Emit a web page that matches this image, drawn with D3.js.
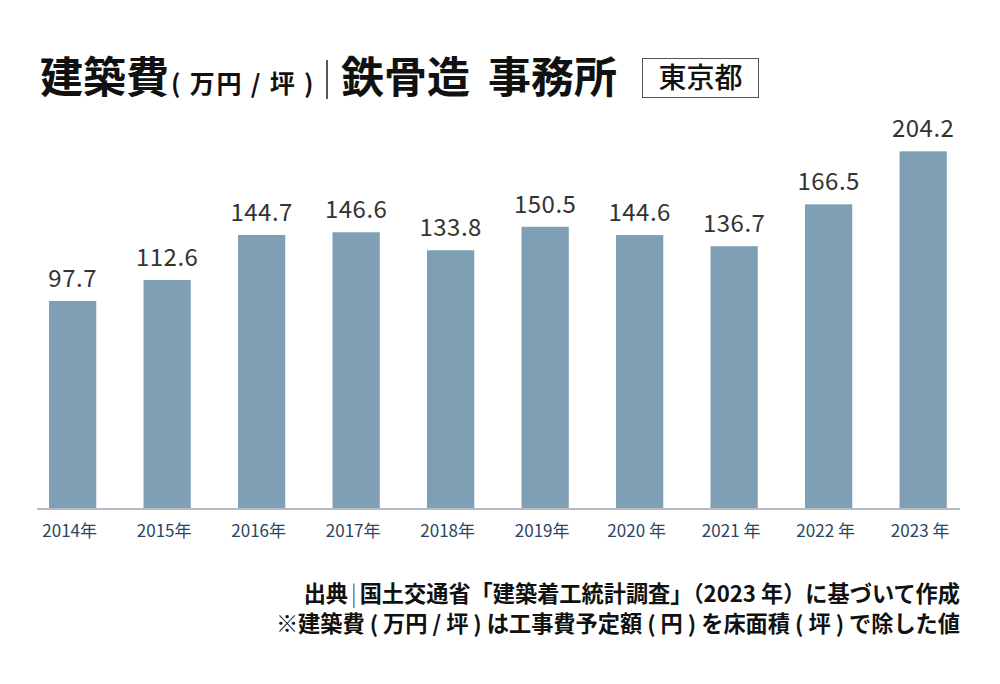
<!DOCTYPE html>
<html>
<head>
<meta charset="utf-8">
<script src="https://cdn.jsdelivr.net/npm/d3@7"></script>
<style>
  html, body { margin: 0; padding: 0; background: #fff; }
  svg { display: block; font-family: "Noto Sans CJK JP", "Noto Sans", sans-serif; }
</style>
</head>
<body>
<svg id="chart" width="1000" height="684"></svg>
<script>
const categories = ["2014年", "2015年", "2016年", "2017年", "2018年", "2019年", "2020 年", "2021 年", "2022 年", "2023 年"];
const values = [97.7, 112.6, 144.7, 146.6, 133.8, 150.5, 144.6, 136.7, 166.5, 204.2];
const valueLabels = ["97.7", "112.6", "144.7", "146.6", "133.8", "150.5", "144.6", "136.7", "166.5", "204.2"];
const titleMain = "建築費";
const titleUnit = "( 万円 / 坪 )";
const titleSub1 = "鉄骨造";
const titleSub2 = "事務所";
const regionLabel = "東京都";
const footnote1 = ["出典", "国土交通省「建築着工統計調査」（2023 年）に基づいて作成"];
const footnote2 = "※建築費 ( 万円 / 坪 ) は工事費予定額 ( 円 ) を床面積 ( 坪 ) で除した値";

const svg = d3.select("#chart");

const x = d3.scaleBand()
  .domain(categories)
  .range([25.4, 970.4])
  .paddingInner(0.5)
  .paddingOuter(0.25);

const y = d3.scaleLinear()
  .domain([-50, 250])
  .range([508.5, 87]);

// bars
svg.append("g").selectAll("rect")
  .data(values)
  .join("rect")
  .attr("x", (d, i) => x(categories[i]))
  .attr("width", x.bandwidth())
  .attr("y", d => y(d))
  .attr("height", d => y(-50) - y(d))
  .attr("fill", "#7e9fb4");

// value labels
svg.append("g").selectAll("text")
  .data(values)
  .join("text")
  .attr("x", (d, i) => x(categories[i]) + x.bandwidth() / 2)
  .attr("y", d => y(d) - 14)
  .attr("text-anchor", "middle")
  .attr("font-size", 24)
  .attr("letter-spacing", 0.5)
  .attr("fill", "#333")
  .text((d, i) => valueLabels[i]);

// x axis
const xAxis = d3.axisBottom(x).tickSize(0).tickPadding(16);
const gx = svg.append("g")
  .attr("transform", `translate(0,${y(-50) + 0.5})`)
  .call(xAxis);
gx.select(".domain").remove();
gx.append("line")
  .attr("x1", 37).attr("x2", 960)
  .attr("y1", 0).attr("y2", 0)
  .attr("stroke", "#b4bac6").attr("stroke-width", 2);
gx.selectAll(".tick text")
  .attr("font-size", 17)
  .attr("font-family", "'Noto Sans CJK JP', sans-serif")
  .attr("fill", "#2b4563")
  .attr("dx", -3);

// title
svg.append("text")
  .attr("x", 40).attr("y", 93)
  .attr("font-size", 43).attr("font-weight", 700).attr("fill", "#111")
  .text(titleMain);
svg.append("text")
  .attr("x", 171).attr("y", 93)
  .attr("font-size", 25).attr("font-weight", 700).attr("fill", "#111")
  .attr("letter-spacing", 1.8)
  .text(titleUnit);

svg.append("line")
  .attr("x1", 327).attr("x2", 327).attr("y1", 60).attr("y2", 99)
  .attr("stroke", "#222").attr("stroke-width", 1.5);

svg.append("text")
  .attr("x", 341).attr("y", 93)
  .attr("font-size", 43).attr("font-weight", 700).attr("fill", "#111")
  .text(titleSub1);
svg.append("text")
  .attr("x", 488).attr("y", 93)
  .attr("font-size", 43).attr("font-weight", 700).attr("fill", "#111")
  .text(titleSub2);

svg.append("rect")
  .attr("x", 642.5).attr("y", 58.5).attr("width", 116).attr("height", 39)
  .attr("fill", "none").attr("stroke", "#555").attr("stroke-width", 1);
svg.append("text")
  .attr("x", 700.5).attr("y", 88)
  .attr("text-anchor", "middle")
  .attr("font-size", 28).attr("font-weight", 500).attr("fill", "#111")
  .text(regionLabel);

// footnotes
const f1 = svg.append("text")
  .attr("x", 960).attr("y", 602)
  .attr("text-anchor", "end")
  .attr("font-size", 22.2).attr("font-weight", 700).attr("fill", "#111");
f1.append("tspan").text(footnote1[0]);
f1.append("tspan").attr("font-weight", 300).attr("fill", "#444").attr("dx", 3).text("|");
f1.append("tspan").attr("dx", 3).text(footnote1[1]);

svg.append("text")
  .attr("x", 960).attr("y", 632)
  .attr("text-anchor", "end")
  .attr("font-size", 22.2).attr("font-weight", 700).attr("fill", "#111")
  .text(footnote2);
</script>
</body>
</html>
